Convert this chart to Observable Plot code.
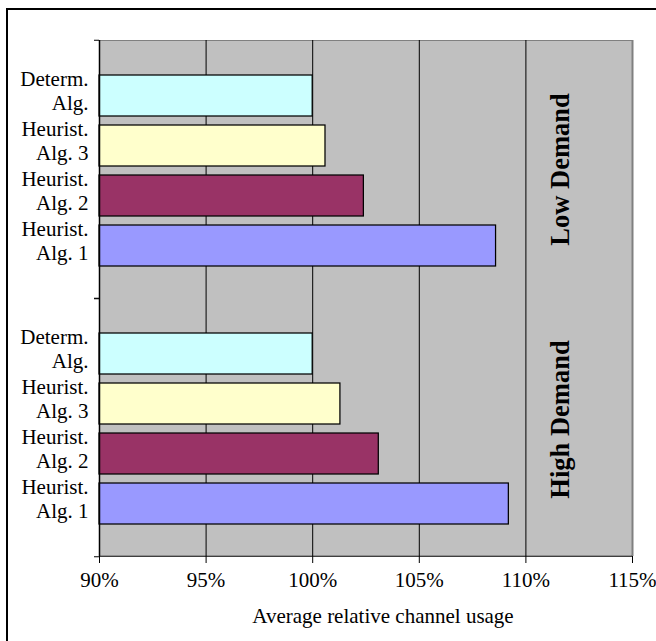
<!DOCTYPE html>
<html>
<head>
<meta charset="utf-8">
<script src="https://cdn.jsdelivr.net/npm/d3@7"></script>
<script src="https://cdn.jsdelivr.net/npm/@observablehq/plot@0.6"></script>
<style>
  html, body { margin: 0; padding: 0; background: #fff; }
  #wrap { position: relative; width: 656px; height: 641px; overflow: hidden; background: #fff; }
  #border { position: absolute; left: 6px; top: 8px; width: 720px; height: 720px; border: 2px solid #000; box-sizing: border-box; pointer-events: none; }
  #chart { position: absolute; left: 0; top: 0; }
</style>
</head>
<body>
<div id="wrap"><div id="chart"></div><div id="border"></div></div>
<script>
// ---- data ----
const groups = ["Low Demand", "High Demand"];
const algorithms = ["Determ. Alg.", "Heurist. Alg. 3", "Heurist. Alg. 2", "Heurist. Alg. 1"];
const algLabels = ["Determ.\nAlg.", "Heurist.\nAlg. 3", "Heurist.\nAlg. 2", "Heurist.\nAlg. 1"];
const lowDemand = [100.0, 100.6, 102.4, 108.6];
const highDemand = [100.0, 101.3, 103.1, 109.2];
const barColors = ["#CCFFFF", "#FFFFCC", "#993366", "#9999FF"];
const xTicks = [90, 95, 100, 105, 110, 115];
const axisTitle = "Average relative channel usage";

const rows = [
  ...algorithms.map((a, i) => ({group: groups[0], alg: a, label: algLabels[i], value: lowDemand[i]})),
  ...algorithms.map((a, i) => ({group: groups[1], alg: a, label: algLabels[i], value: highDemand[i]}))
];

const W = 656, H = 641, mT = 39, mB = 85, mL = 99, mR = 24;
const facetH = (H - mT - mB) / groups.length;
const serif = "'Liberation Serif', 'Times New Roman', Times, serif";
const xMin = xTicks[0], xMax = xTicks[xTicks.length - 1];

const chart = Plot.plot({
  width: W, height: H,
  marginLeft: mL, marginRight: mR, marginTop: mT, marginBottom: mB,
  style: {fontFamily: serif, background: "transparent", color: "#000", overflow: "visible"},
  x: {domain: [xMin, xMax]},
  y: {domain: algorithms, paddingInner: 0.181, paddingOuter: 0.641, align: 0.52, axis: null},
  fy: {domain: groups, padding: 0},
  color: {domain: algorithms, range: barColors},
  marks: [
    // plot area background
    Plot.rect(groups, {fy: d => d, x1: xMin, x2: xMax, fill: "#C0C0C0"}),
    // top border strip (top facet only)
    Plot.rect(groups.slice(0, 1), {fy: d => d, x1: xMin, x2: xMax, fill: "#808080", insetBottom: facetH - 1.5}),
    // gridlines
    Plot.ruleX(xTicks.slice(1, -1), {stroke: "#000", strokeWidth: 1}),
    Plot.ruleX([xMax], {stroke: "#808080", strokeWidth: 2}),
    // bars
    Plot.barX(rows, {fy: "group", y: "alg", x1: xMin, x2: "value", fill: "alg", stroke: "#000", strokeWidth: 1.25}),
    // y axis line
    Plot.ruleX([xMin], {stroke: "#000", strokeWidth: 1.5}),
    // x axis line (bottom facet)
    Plot.rect(groups.slice(1), {fy: d => d, x1: xMin, x2: xMax, fill: "#000", insetTop: facetH - 0.75, insetBottom: -0.75}),
    // category tick marks at group boundaries
    Plot.axisFy({anchor: "left", tickSize: 5, tickFormat: () => "", dy: -facetH / 2, label: null, stroke: "#000"}),
    Plot.axisFy({anchor: "left", tickSize: 5, tickFormat: () => "", dy: facetH / 2, label: null, stroke: "#000"}),
    // x axis ticks & labels
    Plot.axisX({anchor: "bottom", ticks: xTicks, tickSize: 7, tickPadding: 9, tickFormat: d => `${d}%`, fontSize: 21, label: null, stroke: "#000", fill: "#000"}),
    // y labels
    Plot.text(rows, {fy: "group", y: "alg", text: "label", frameAnchor: "left", dx: -11, dy: -6, textAnchor: "end", lineHeight: 1.19, fontSize: 21, fill: "#000"}),
    // group labels
    Plot.text(groups.slice(0, 1), {fy: d => d, text: d => d, frameAnchor: "right", textAnchor: "middle", dx: -72, dy: 0, rotate: -90, fontSize: 26.5, fontWeight: "bold", fill: "#000"}),
    Plot.text(groups.slice(1), {fy: d => d, text: d => d, frameAnchor: "right", textAnchor: "middle", dx: -72, dy: -8, rotate: -90, fontSize: 26.5, fontWeight: "bold", fill: "#000"}),
    // axis title
    Plot.text([{group: groups[1], t: axisTitle}], {fy: "group", text: "t", frameAnchor: "bottom", dx: 17, dy: 66, fontSize: 21, fill: "#000"})
  ]
});
document.getElementById("chart").appendChild(chart);
</script>
</body>
</html>
